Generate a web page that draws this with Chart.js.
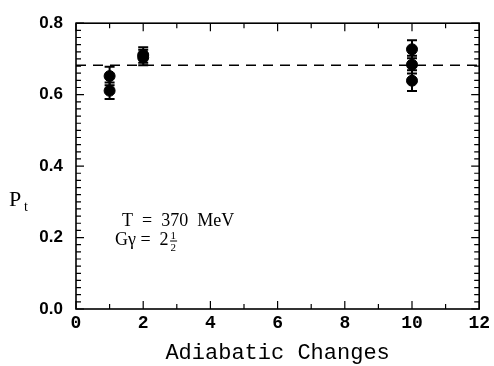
<!DOCTYPE html>
<html>
<head>
<meta charset="utf-8">
<script src="https://cdn.jsdelivr.net/npm/chart.js@4"></script>
<style>
  html, body { margin: 0; padding: 0; background: #fff; }
  #wrap { width: 494px; height: 366px; }
</style>
</head>
<body>
<div id="wrap"><canvas id="chart"></canvas></div>
<script>
// measured polarization vs number of adiabatic changes
const changes = [1, 1, 2, 2, 10, 10, 10];
const pt = [0.652, 0.611, 0.711, 0.704, 0.727, 0.684, 0.639];
const ptErr = [0.026, 0.023, 0.022, 0.022, 0.025, 0.025, 0.029];
const avgLevel = 0.682;
const xRange = [0, 12];
const yRange = [0, 0.8];

const points = changes.map((x, i) => ({ x: x, y: pt[i], err: ptErr[i] }));
const avgLine = xRange.map(x => ({ x: x, y: avgLevel }));

// error bars, inward ticks, frame and labels drawn on the library's scales
const extras = {
  id: 'extras',
  afterDatasetsDraw(chart) {
    const c = chart.ctx;
    const xs = chart.scales.x, ys = chart.scales.y;
    const a = chart.chartArea;
    c.save();
    c.strokeStyle = '#000';
    c.fillStyle = '#000';

    // error bars
    c.lineWidth = 2;
    points.forEach(p => {
      const px = xs.getPixelForValue(p.x);
      const top = ys.getPixelForValue(p.y + p.err);
      const bot = ys.getPixelForValue(p.y - p.err);
      c.beginPath();
      c.moveTo(px, top); c.lineTo(px, bot);
      c.moveTo(px - 5, top); c.lineTo(px + 5, top);
      c.moveTo(px - 5, bot); c.lineTo(px + 5, bot);
      c.stroke();
    });

    // frame
    c.lineWidth = 1.6;
    c.strokeRect(a.left, a.top, a.right - a.left, a.bottom - a.top);

    // inward ticks
    c.lineWidth = 1.2;
    c.beginPath();
    for (let v = xRange[0]; v <= xRange[1]; v += 1) {
      const px = xs.getPixelForValue(v);
      const len = v % 2 === 0 ? 8 : 5;
      c.moveTo(px, a.bottom); c.lineTo(px, a.bottom - len);
      c.moveTo(px, a.top); c.lineTo(px, a.top + len);
    }
    for (let k = 0; k <= 40; k++) {
      const py = ys.getPixelForValue(k * 0.02);
      const len = k % 10 === 0 ? 8 : 5;
      c.moveTo(a.left, py); c.lineTo(a.left + len, py);
      c.moveTo(a.right, py); c.lineTo(a.right - len, py);
    }
    c.stroke();

    // y axis title P_t
    c.textBaseline = 'alphabetic';
    c.textAlign = 'left';
    c.font = '22px "Liberation Serif"';
    c.fillText('P', 9, 206);
    c.font = '14px "Liberation Serif"';
    c.fillText('t', 24, 211);

    // annotation
    c.font = '18px "Liberation Serif"';
    c.fillText('T  =  370  MeV', 122, 226);
    c.fillText('G\u03b3 =  2', 115, 245);
    const fx = 115 + c.measureText('G\u03b3 =  2').width + 2;
    c.font = '11px "Liberation Serif"';
    c.fillText('1', fx, 239);
    c.fillText('2', fx, 251);
    c.lineWidth = 1;
    c.beginPath();
    c.moveTo(fx - 0.5, 241); c.lineTo(fx + 6.5, 241);
    c.stroke();
    c.restore();
  }
};

new Chart(document.getElementById('chart'), {
  type: 'scatter',
  data: {
    datasets: [
      {
        label: 'Pt',
        data: points,
        backgroundColor: '#000',
        borderColor: '#000',
        pointRadius: 5.5,
        pointHoverRadius: 5.5
      },
      {
        type: 'line',
        label: 'average',
        data: avgLine,
        borderColor: '#000',
        borderWidth: 1.5,
        borderDash: [10, 7],
        pointRadius: 0,
        fill: false
      }
    ]
  },
  plugins: [extras],
  options: {
    responsive: true,
    maintainAspectRatio: false,
    animation: false,
    events: [],
    layout: { padding: { left: 0, right: 10, top: 13, bottom: 0 } },
    plugins: {
      legend: { display: false },
      tooltip: { enabled: false }
    },
    scales: {
      x: {
        type: 'linear',
        min: xRange[0],
        max: xRange[1],
        grid: { display: false, drawTicks: false },
        border: { display: false },
        ticks: {
          stepSize: 2,
          color: '#000',
          padding: 4,
          font: { family: '"Liberation Mono"', size: 18, weight: 'bold' }
        },
        title: {
          display: true,
          text: 'Adiabatic Changes',
          color: '#000',
          padding: { top: 7, bottom: 0 },
          font: { family: '"Liberation Mono"', size: 22 }
        },
        afterFit: s => { s.height = 57; }
      },
      y: {
        type: 'linear',
        min: yRange[0],
        max: yRange[1],
        grid: { display: false, drawTicks: false },
        border: { display: false },
        ticks: {
          stepSize: 0.2,
          color: '#000',
          padding: 13,
          font: { family: '"Liberation Sans"', size: 17, weight: 'bold' },
          callback: v => v.toFixed(1)
        },
        afterFit: s => { s.width = 76; }
      }
    }
  }
});
</script>
</body>
</html>
